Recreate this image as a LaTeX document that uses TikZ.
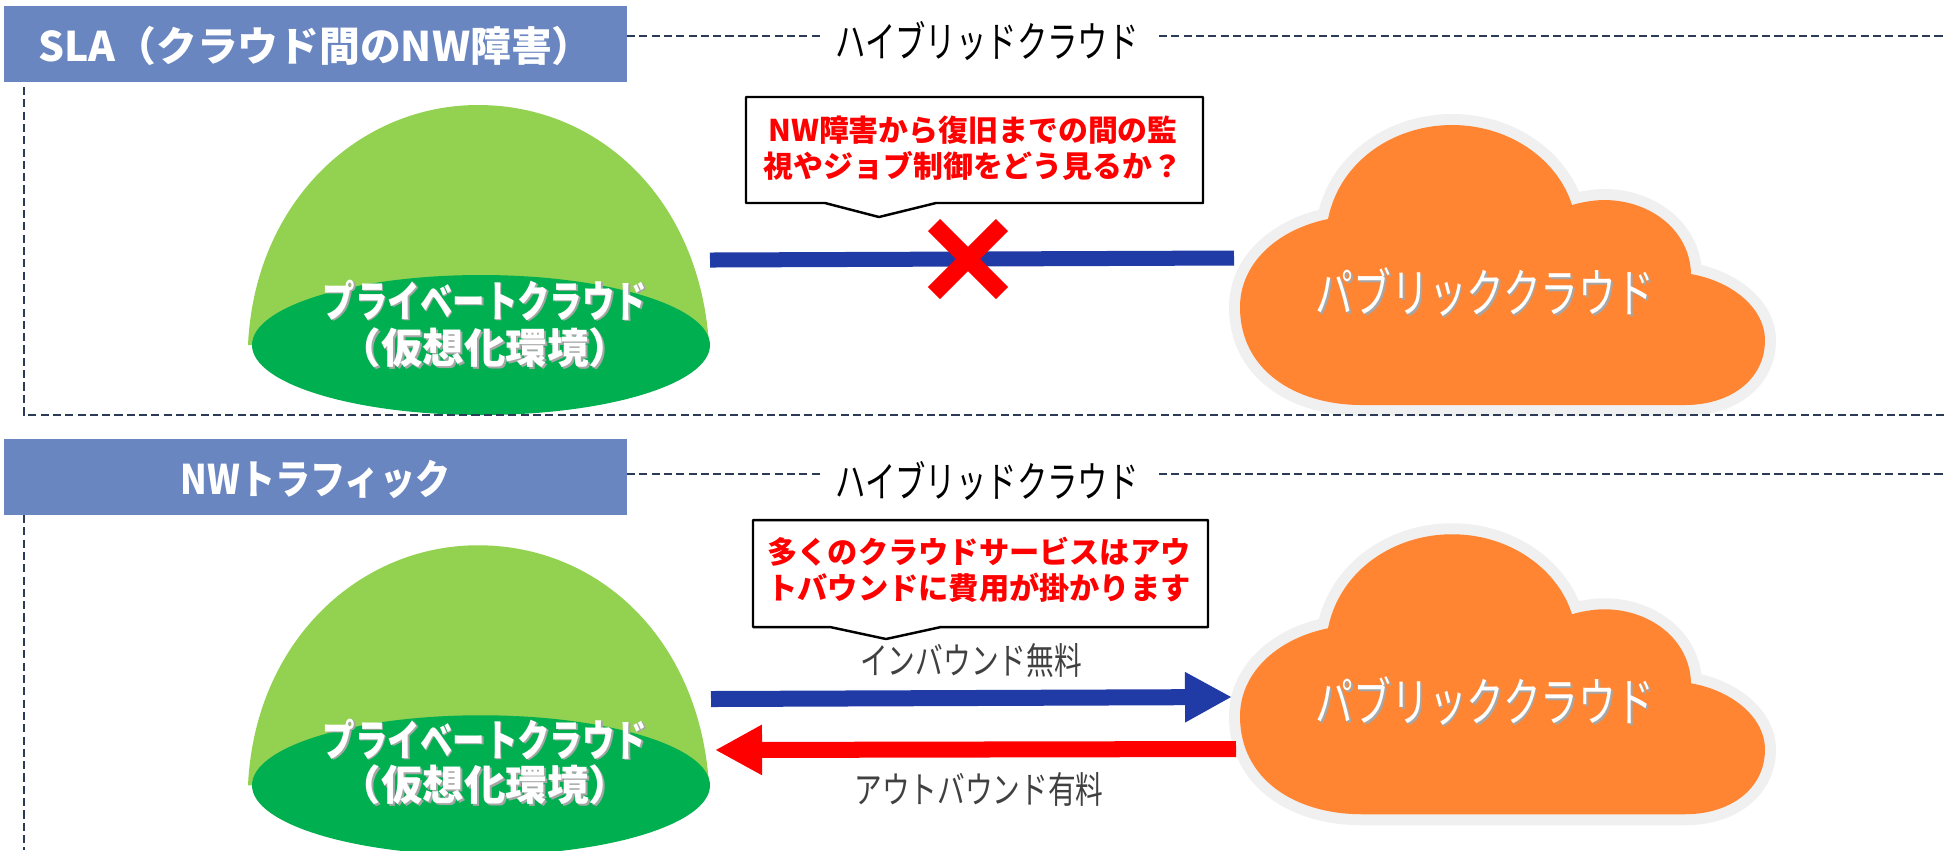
\documentclass[tikz,border=0pt]{standalone}
\usepackage{fontspec}
\usetikzlibrary{arrows.meta}
\newfontfamily\jpfont[FakeStretch=0.75]{Noto Sans CJK JP}
\newfontfamily\jpthin[FakeStretch=0.72]{Noto Sans CJK JP}
\newfontfamily\jpnarrow[FakeStretch=0.86]{Noto Sans CJK JP}
\newfontfamily\jphead{Noto Sans CJK JP}
\definecolor{headblue}{HTML}{6A86C1}
\definecolor{linenavy}{HTML}{2B3A55}
\definecolor{barblue}{HTML}{203AA6}
\definecolor{domegreen}{HTML}{93D150}
\definecolor{basegreen}{HTML}{00B050}
\definecolor{cloudorange}{HTML}{FF8533}
\definecolor{cloudrim}{HTML}{F0F0F0}
\definecolor{labelgray}{HTML}{404040}
\newcommand{\shadowed}[1]{\leavevmode\rlap{\raisebox{-0.5pt}{\kern0.5pt\textcolor{black!35}{#1}}}#1}
\newcommand{\cloudoutline}{(1328,219) .. controls (1340,160) and (1395,125) .. (1452,125)
  .. controls (1510,125) and (1558,160) .. (1572,205)
  .. controls (1582,202) and (1595,200) .. (1604,200)
  .. controls (1650,200) and (1690,230) .. (1691,274)
  .. controls (1735,282) and (1765,310) .. (1765,340)
  .. controls (1765,380) and (1730,405) .. (1685,405)
  -- (1362,405) .. controls (1295,405) and (1240,370) .. (1240,307)
  .. controls (1240,265) and (1275,230) .. (1328,219) -- cycle}
\newcommand{\drawcloud}[1]{%
\begin{scope}[yshift=#1]
\draw[cloudrim,line width=0.22cm,line join=round] \cloudoutline;
\fill[cloudorange] \cloudoutline;
\end{scope}}
\newcommand{\drawdome}[1]{%
\begin{scope}[yshift=#1]
\fill[domegreen] (248,345) .. controls (255,200) and (360,105) .. (478,105)
  .. controls (600,105) and (700,200) .. (709,345) -- cycle;
\fill[basegreen] (481,345) ellipse [x radius=229, y radius=70];
\end{scope}}
\tikzset{
  headbox/.style={fill=headblue,text=white,inner sep=0,minimum width=6.23cm,minimum height=0.76cm,font=\jphead\bfseries\fontsize{11.6}{13}\selectfont},
  hybrid/.style={inner sep=0,font=\jpthin\fontsize{12.0}{14}\selectfont},
  dashline/.style={linenavy,line width=0.5pt,dash pattern=on 2.3pt off 1.2pt},
  privtext/.style={text=white,inner sep=0,font=\jpfont\bfseries\fontsize{12.3}{14}\selectfont},
  virttext/.style={text=white,inner sep=0,font=\jphead\bfseries\fontsize{11.8}{14}\selectfont},
  pubtext/.style={text=white,inner sep=0,font=\jpthin\fontsize{14.9}{17}\selectfont},
  calltext/.style={text=red,inner sep=0,align=center,font=\jphead\bfseries\fontsize{8.5}{10.1}\selectfont},
  costtext/.style={calltext,font=\jphead\bfseries\fontsize{8.6}{10.1}\selectfont},
  callbox/.style={draw=black,fill=white,line width=0.7pt,line join=round},
  trafficlabel/.style={text=labelgray,inner sep=0,font=\jpfont\fontsize{10.5}{12}\selectfont}
}
\begin{document}
\begin{tikzpicture}[x=0.01cm,y=-0.01cm]
\useasboundingbox (0,0) rectangle (1944,850);
\fill[white] (0,0) rectangle (1944,850);

\drawdome{0cm}
\drawcloud{0cm}
\drawdome{-4.4cm}
\drawcloud{-4.09cm}

\node[headbox] (sla) at (315.5,44) {\raisebox{-5pt}[0pt][0pt]{SLA（クラウド間のNW障害）}};
\node[hybrid] (hybrid1) at (987,41) {ハイブリッドクラウド};
\coordinate (top1) at (1944,36);
\coordinate (corner1) at (24,415);
\coordinate (end1) at (1944,415);
\coordinate (left1) at (24,87);
\coordinate (slaright) at (627,36);
\coordinate (hybridleft1) at (821,36);
\coordinate (hybridright1) at (1159,36);
\draw[dashline] (slaright) -- (hybridleft1);
\draw[dashline] (hybridright1) -- (top1);
\draw[dashline] (left1) -- (corner1) -- (end1);

\node[privtext] (priv1) at (485,301) {\shadowed{プライベートクラウド}};
\node[virttext] (virt1) at (485,349) {\shadowed{（仮想化環境）}};
\node[pubtext] (pub1) at (1485,293) {\shadowed{パブリッククラウド}};

\coordinate (linka) at (710,260);
\coordinate (linkb) at (1234,258);
\draw[barblue,line width=0.15cm] (linka) -- (linkb);
\coordinate (crossa) at (934,225);
\coordinate (crossb) at (1002,293);
\coordinate (crossc) at (1002,225);
\coordinate (crossd) at (934,293);
\draw[red,line width=0.17cm] (crossa) -- (crossb);
\draw[red,line width=0.17cm] (crossc) -- (crossd);

\draw[callbox] (746,97) -- (1203,97) -- (1203,203) -- (936,203) -- (879,217) -- (825,203) -- (746,203) -- cycle;
\node[calltext] (ask) at (973,148) {NW障害から復旧までの間の監\\視やジョブ制御をどう見るか？};

\node[headbox,font=\jpnarrow\bfseries\fontsize{11.6}{13}\selectfont] (traffic) at (315.5,477) {\raisebox{-5pt}[0pt][0pt]{NWトラフィック}};
\node[hybrid] (hybrid2) at (987,481) {ハイブリッドクラウド};
\coordinate (top2) at (1944,474);
\coordinate (left2) at (24,515);
\coordinate (bottom2) at (24,850);
\coordinate (trafficright) at (627,474);
\coordinate (hybridleft2) at (821,474);
\coordinate (hybridright2) at (1159,474);
\draw[dashline] (trafficright) -- (hybridleft2);
\draw[dashline] (hybridright2) -- (top2);
\draw[dashline] (left2) -- (bottom2);

\node[privtext] (priv2) at (485,740) {\shadowed{プライベートクラウド}};
\node[virttext] (virt2) at (485,786) {\shadowed{（仮想化環境）}};
\node[pubtext] (pub2) at (1485,702) {\shadowed{パブリッククラウド}};

\draw[callbox] (753,520) -- (1208,520) -- (1208,627) -- (941,627) -- (886,639) -- (830,627) -- (753,627) -- cycle;
\node[costtext] (cost) at (979,570) {多くのクラウドサービスはアウ\\トバウンドに費用が掛かります};

\node[trafficlabel] (inbound) at (971,660) {インバウンド無料};
\node[trafficlabel] (outbound) at (979,789) {アウトバウンド有料};

\coordinate (ina) at (711,699);
\coordinate (inb) at (1232,697);
\coordinate (outa) at (1236,749);
\coordinate (outb) at (715,750);
\draw[-{Triangle[length=0.47cm,width=0.47cm]},barblue,line width=0.16cm] (ina) -- (inb);
\draw[-{Triangle[length=0.47cm,width=0.47cm]},red,line width=0.16cm] (outa) -- (outb);
\end{tikzpicture}
\end{document}
